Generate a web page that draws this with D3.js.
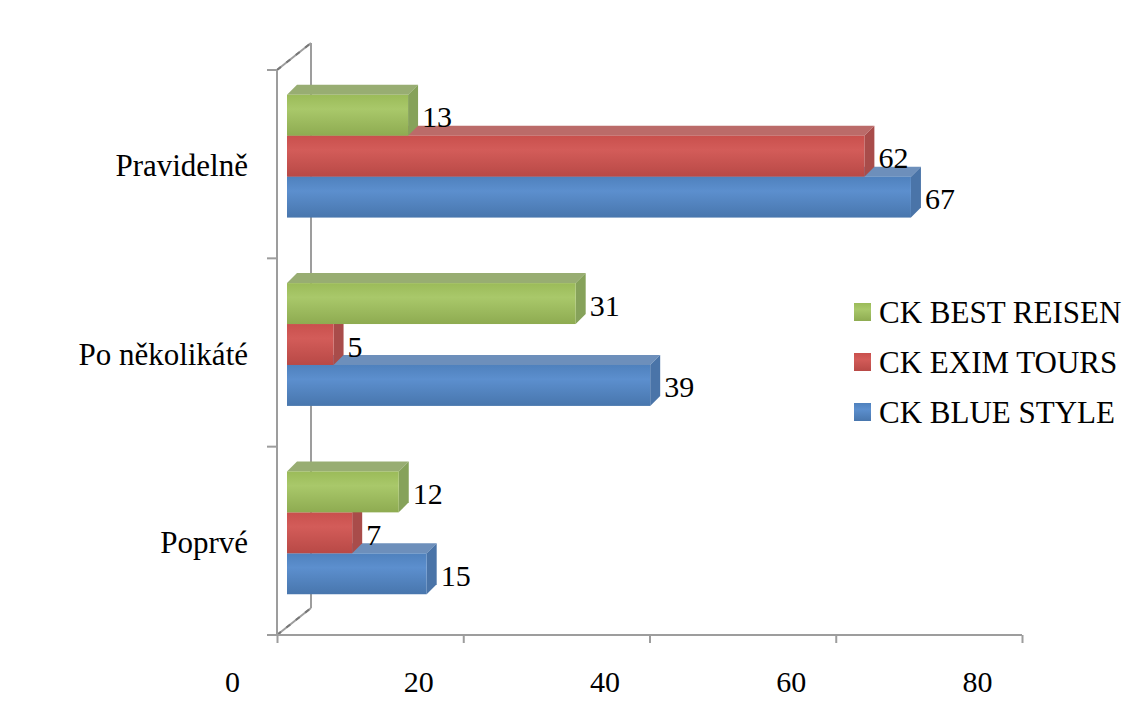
<!DOCTYPE html>
<html>
<head>
<meta charset="utf-8">
<script src="https://cdn.jsdelivr.net/npm/d3@7"></script>
<style>
  body { margin: 0; background: #fff; }
  text { font-family: "Liberation Serif", "Times New Roman", serif; fill: #000; }
</style>
</head>
<body>
<div id="chart"></div>
<script>
const categories = ["Pravidelně", "Po několikáté", "Poprvé"]
const seriesNames = ["CK BEST REISEN", "CK EXIM TOURS", "CK BLUE STYLE"]
const bestReisen = [13, 31, 12]
const eximTours = [62, 5, 7]
const blueStyle = [67, 39, 15]
const xTicks = [0, 20, 40, 60, 80]

const seriesValues = [bestReisen, eximTours, blueStyle]
const colors = {
  "CK BEST REISEN": {front: "#9bbb59", light: "#a9c86a", top: "#98ad72", side: "#86a25a"},
  "CK EXIM TOURS": {front: "#c9504d", light: "#d35c59", top: "#bb6b69", side: "#a94c4a"},
  "CK BLUE STYLE": {front: "#4f81bd", light: "#5c8fce", top: "#6d8fbb", side: "#4a74a8"}
}

const width = 1142, height = 713
const svg = d3.select("#chart").append("svg")
  .attr("width", width).attr("height", height)

// 3d offsets
const wall = {dx: 34, dy: -27}
const front = {dx: 10, dy: -8}
const depth = {dx: 10, dy: -10}

let x = d3.scaleLinear().domain([0, 80]).range([277, 1022])
let y = d3.scaleBand().domain(categories).range([70, 635])
let inner = d3.scaleBand().domain(seriesNames).range([0, y.bandwidth()]).paddingOuter(0.8)

const defs = svg.append("defs")
seriesNames.forEach((s, i) => {
  let c = colors[s]
  let grad = defs.append("linearGradient").attr("id", "g" + i)
    .attr("x1", 0).attr("y1", 0).attr("x2", 0).attr("y2", 1)
  grad.append("stop").attr("offset", "0%").attr("stop-color", c.front)
  grad.append("stop").attr("offset", "35%").attr("stop-color", c.light)
  grad.append("stop").attr("offset", "100%").attr("stop-color", d3.color(c.front).darker(0.25))
})

// walls / floor edges
const axisColor = "#9d9d9d"
const gWall = svg.append("g").attr("stroke", axisColor).attr("stroke-width", 2).attr("fill", "none")
let x0 = x(0), yTop = y.range()[0], yBot = y.range()[1]
gWall.append("line").attr("x1", x0 + wall.dx).attr("y1", yTop + wall.dy)
  .attr("x2", x0 + wall.dx).attr("y2", yBot + wall.dy)
;[yTop, yBot].forEach(yy => {
  gWall.append("line").attr("x1", x0).attr("y1", yy).attr("x2", x0 + wall.dx).attr("y2", yy + wall.dy)
  gWall.append("line").attr("x1", x0).attr("y1", yy).attr("x2", x0 + wall.dx).attr("y2", yy + wall.dy)
    .attr("stroke", "#777").attr("stroke-dasharray", "5,7")
})

// vertical (category) axis
let yBounds = categories.map(c => y(c)).concat([yBot])
gWall.append("line").attr("x1", x0).attr("y1", yTop).attr("x2", x0).attr("y2", yBot)
gWall.selectAll(".ytick").data(yBounds).enter().append("line")
  .attr("x1", x0 - 10).attr("x2", x0).attr("y1", d => d).attr("y2", d => d)

// horizontal (value) axis
let xAxis = d3.axisBottom(x).tickValues(xTicks).tickSize(8).tickSizeOuter(0)
let gX = svg.append("g").attr("transform", `translate(0,${yBot})`).call(xAxis)
gX.select(".domain").remove()
gX.selectAll(".tick line").attr("stroke", axisColor).attr("stroke-width", 2)
gX.selectAll(".tick text").attr("x", -45).attr("y", 57).attr("dy", 0)
  .style("font-size", "30px").attr("font-family", null)
svg.append("line").attr("x1", x0 - 10).attr("x2", x(80)).attr("y1", yBot).attr("y2", yBot)
  .attr("stroke", axisColor).attr("stroke-width", 2)

// category labels
svg.selectAll(".cat").data(categories).enter().append("text")
  .attr("x", 248).attr("y", d => y(d) + y.bandwidth() / 2 + 12)
  .attr("text-anchor", "end").style("font-size", "31px")
  .text(d => d)

// bars, bottom series first so upper fronts cover lower tops
let bars = []
categories.forEach((c, ci) => {
  for (let si = seriesNames.length - 1; si >= 0; si--) {
    bars.push({cat: c, s: seriesNames[si], si: si, v: seriesValues[si][ci]})
  }
})

const gBars = svg.append("g")
bars.forEach(b => {
  let c = colors[b.s]
  let h = inner.bandwidth()
  let y0 = y(b.cat) + inner(b.s) + front.dy
  let xl = x(0) + front.dx, xr = x(b.v) + front.dx
  let g = gBars.append("g")
  g.append("polygon")
    .attr("points", [[xl, y0], [xr, y0], [xr + depth.dx, y0 + depth.dy], [xl + depth.dx, y0 + depth.dy]].join(" "))
    .attr("fill", c.top)
  g.append("polygon")
    .attr("points", [[xr, y0], [xr + depth.dx, y0 + depth.dy], [xr + depth.dx, y0 + h + depth.dy], [xr, y0 + h]].join(" "))
    .attr("fill", c.side)
  g.append("rect").attr("x", xl).attr("y", y0).attr("width", xr - xl).attr("height", h)
    .attr("fill", "url(#g" + b.si + ")")
  b.lx = xr + depth.dx + 4
  b.ly = y0 + h / 2 + 12
})

svg.append("g").selectAll("text").data(bars).enter().append("text")
  .attr("x", d => d.lx).attr("y", d => d.ly)
  .style("font-size", "30px")
  .text(d => d.v)

// legend
let legend = svg.append("g").selectAll("g").data(seriesNames).enter().append("g")
  .attr("transform", (d, i) => `translate(854,${303 + i * 50})`)
legend.append("rect").attr("width", 17).attr("height", 18)
  .attr("fill", (d, i) => "url(#g" + i + ")")
legend.append("text").attr("x", 25).attr("y", 20).style("font-size", "31px")
  .text(d => d)
</script>
</body>
</html>
